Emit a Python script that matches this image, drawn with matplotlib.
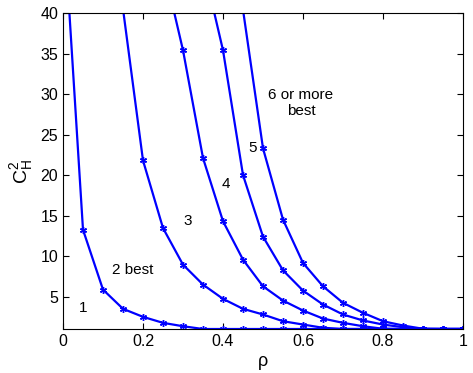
import numpy as np
import matplotlib
matplotlib.use("Agg")
import matplotlib.pyplot as plt

plt.rcParams['font.family'] = ['Liberation Sans', 'DejaVu Sans']
plt.rcParams['mathtext.fontset'] = 'custom'
plt.rcParams['mathtext.rm'] = 'Liberation Sans'
plt.rcParams['mathtext.it'] = 'Liberation Sans'

rho = [0.0, 0.05, 0.1, 0.15, 0.2, 0.25, 0.3, 0.35, 0.4, 0.45, 0.5,
       0.55, 0.6, 0.65, 0.7, 0.75, 0.8, 0.85, 0.9, 0.95, 1.0]
nan = np.nan
curve1 = [52.6, 13.25, 5.86, 3.49, 2.5, 1.76, 1.34, 1, 1, 1, 1,
          1, 1, 1, 1, 1, 1, 1, 1, 1, 1]
curve2 = [nan, nan, nan, 40.5, 21.8, 13.46, 8.94, 6.48, 4.72, 3.49, 2.79,
          1.96, 1.55, 1.15, 1, 1, 1, 1, 1, 1, 1]
curve3 = [nan, nan, nan, nan, nan, 46.0, 35.4, 22.1, 14.3, 9.56, 6.27,
          4.51, 3.28, 2.29, 1.76, 1.34, 1.03, 1, 1, 1, 1]
curve4 = [nan, nan, nan, nan, nan, nan, nan, 46.0, 35.4, 20.0, 12.4,
          8.24, 5.74, 4.02, 2.79, 2.05, 1.55, 1.22, 1, 1, 1]
curve5 = [nan, nan, nan, nan, nan, nan, nan, nan, nan, 40.4, 23.3,
          14.5, 9.15, 6.27, 4.23, 3.0, 1.96, 1.43, 1.03, 1, 1]
curves = [curve1, curve2, curve3, curve4, curve5]

labels = ["1", "2 best", "3", "4", "5", "6 or more\nbest"]
label_x = [0.05, 0.175, 0.3125, 0.4075, 0.475, 0.595]
label_y = [3.6, 8.3, 14.3, 18.9, 23.3, 28.9]

fig = plt.figure(figsize=(4.73, 3.73), dpi=100)
ax = fig.add_axes([63/473, 1-329/373, 400/473, 316/373])

for c in curves:
    ax.plot(rho, c, color=(0, 0, 1), lw=1.6, marker=(6, 2, 0), ms=5,
            mew=1.0, clip_on=True)

for t, x, y in zip(labels, label_x, label_y):
    ax.text(x, y, t, ha='center', va='center', fontsize=11,
            linespacing=1.15)

ax.set_xlim(0, 1)
ax.set_ylim(1, 40)
ax.set_xticks([0, 0.2, 0.4, 0.6, 0.8, 1])
ax.set_xticklabels(['0', '0.2', '0.4', '0.6', '0.8', '1'])
ax.set_yticks([5, 10, 15, 20, 25, 30, 35, 40])
ax.tick_params(direction='in', top=True, right=True, length=4,
               labelsize=11.5, width=0.8)
for s in ax.spines.values():
    s.set_linewidth(0.8)
ax.set_xlabel('ρ', fontsize=13, labelpad=3)
ax.set_ylabel(r'$\mathregular{C_H^2}$', fontsize=14, labelpad=4)

fig.savefig('out.png', dpi=100)
